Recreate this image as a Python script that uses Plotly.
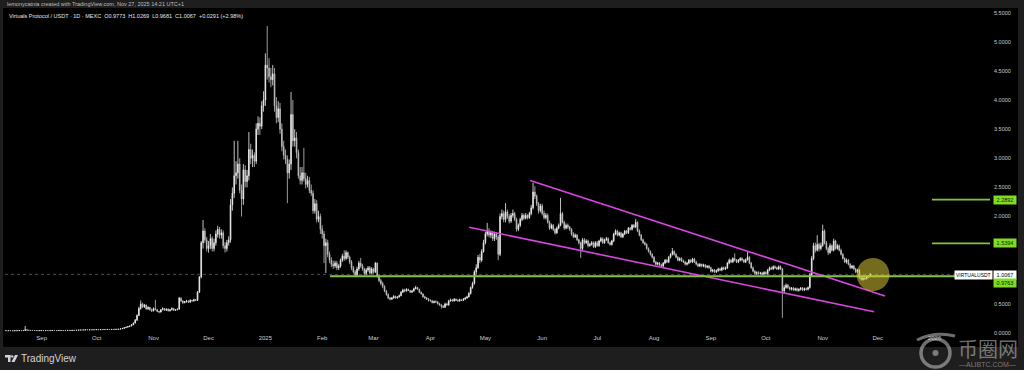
import plotly.graph_objects as go
import pandas as pd

# ---------------- data ----------------
HEADER_TEXT = "lemonycatnia created with TradingView.com, Nov 27, 2025 14:21 UTC+1"
LEGEND_TEXT = "Virtuals Protocol / USDT · 1D · MEXC  O0.9773  H1.0269  L0.9681  C1.0067  +0.0291 (+2.98%)"
SYMBOL = "VIRTUALUSDT"
LAST_DATE = "2025-11-27"

OPEN = [
    # 2024-08 (12..31)
    .040, .040, .039, .041, .040, .038, .039, .040, .041, .042, .041, .043, .055, .048, .046, .044, .043, .042, .041, .040,
    # 2024-09
    .041, .042, .041, .043, .042, .041, .043, .044, .042, .041, .043, .044, .043, .042, .044, .045, .043, .044, .046, .045,
    .047, .050, .052, .051, .053, .055, .054, .056, .055, .057,
    # 2024-10
    .056, .058, .056, .059, .058, .060, .059, .061, .060, .062, .061, .063, .064, .066, .072, .080, .090, .100, .110, .120,
    .140, .170, .220, .300, .420, .500, .450, .480, .410, .440, .400,
    # 2024-11
    .380, .420, .400, .370, .360, .400, .420, .390, .410, .380, .400, .420, .390, .400, .410, .600, .550, .520, .540, .550,
    .530, .560, .550, .570, .560, .700, .960, 1.55, 1.75, 1.60,
    # 2024-12
    1.45, 1.50, 1.62, 1.45, 1.55, 1.70, 1.78, 1.68, 1.72, 1.50, 1.45, 1.55, 1.60, 2.20, 2.40, 2.70, 2.75, 2.90, 2.45, 2.30,
    2.80, 2.60, 2.70, 3.15, 3.00, 3.05, 2.95, 3.50, 3.60, 3.55, 3.90,
    # 2025-01
    4.00, 4.60, 4.55, 4.40, 4.35, 4.45, 3.90, 3.70, 3.85, 3.50, 3.20, 3.05, 2.98, 2.75, 2.90, 3.75, 3.30, 3.35, 3.10, 2.70,
    2.62, 2.75, 2.65, 2.55, 2.62, 2.45, 2.40, 2.10, 2.22, 1.95, 2.00,
    # 2025-02
    1.78, 1.70, 1.50, 1.55, 1.35, 1.25, 1.18, 1.15, 1.20, 1.12, 1.15, 1.25, 1.32, 1.28, 1.38, 1.30, 1.22, 1.12, 1.05, 1.00,
    1.10, 1.20, 1.15, 1.10, 1.02, 1.08, 1.12, 1.03,
    # 2025-03
    1.10, 1.05, 1.20, 0.98, 0.90, 0.85, 0.80, 0.72, 0.66, 0.60, 0.58, 0.60, 0.63, 0.60, 0.62, 0.64, 0.70, 0.74, 0.72, 0.75,
    0.73, 0.70, 0.72, 0.76, 0.78, 0.75, 0.70, 0.67, 0.62, 0.60, 0.58,
    # 2025-04
    .56, .55, .52, .54, .53, .50, .48, .46, .44, .50, .48, .55, .57, .55, .58, .56, .55, .57, .56, .58,
    .60, .62, .68, .78, .85, 1.05, 1.12, 1.30, 1.25, 1.40,
    # 2025-05
    1.55, 1.70, 1.75, 1.68, 1.72, 1.62, 1.70, 1.65, 1.35, 2.00, 2.05, 1.95, 2.08, 2.00, 1.92, 2.02, 2.05, 1.95, 1.78, 1.85,
    1.95, 2.02, 1.97, 2.02, 1.98, 2.05, 2.15, 2.42, 2.35, 2.22, 2.10,
    # 2025-06
    2.18, 2.05, 1.98, 2.02, 1.90, 1.80, 1.85, 1.78, 1.72, 1.80, 1.85, 2.05, 1.90, 1.80, 1.85, 1.82, 1.78, 1.70, 1.65, 1.68,
    1.60, 1.55, 1.45, 1.60, 1.55, 1.58, 1.50, 1.52, 1.55, 1.48,
    # 2025-07
    1.55, 1.50, 1.58, 1.62, 1.55, 1.60, 1.62, 1.55, 1.52, 1.58, 1.70, 1.75, 1.68, 1.72, 1.65, 1.70, 1.75, 1.72, 1.80, 1.78,
    1.85, 1.82, 1.90, 1.75, 1.68, 1.60, 1.55, 1.52, 1.45, 1.40, 1.35,
    # 2025-08
    1.30, 1.22, 1.18, 1.20, 1.17, 1.15, 1.20, 1.25, 1.22, 1.30, 1.35, 1.40, 1.35, 1.30, 1.25, 1.28, 1.24, 1.22, 1.18, 1.20,
    1.25, 1.22, 1.27, 1.22, 1.18, 1.15, 1.18, 1.15, 1.17, 1.13, 1.15,
    # 2025-09
    1.12, 1.06, 1.08, 1.05, 1.07, 1.10, 1.08, 1.12, 1.10, 1.12, 1.20, 1.25, 1.22, 1.28, 1.25, 1.22, 1.25, 1.28, 1.25, 1.22,
    1.26, 1.30, 1.20, 1.12, 1.06, 1.02, 1.04, 1.02, 1.03, 1.01,
    # 2025-10
    1.04, 1.02, 1.08, 1.12, 1.10, 1.14, 1.12, 1.10, 1.14, 1.10, 0.72, 0.78, 0.82, 0.78, 0.75, 0.77, 0.74, 0.76, 0.73, 0.75,
    0.77, 0.74, 0.76, 0.75, 0.78, 1.00, 1.28, 1.50, 1.42, 1.52, 1.45,
    # 2025-11 (1..27)
    1.50, 1.75, 1.55, 1.45, 1.38, 1.50, 1.42, 1.58, 1.45, 1.50, 1.42, 1.35, 1.28, 1.22, 1.25, 1.18, 1.12, 1.15, 1.10, 1.05,
    1.08, 0.95, 0.92, 0.94, 0.93, 0.96, 0.9773,
]

HIGH = [
    # 2024-08
    .042, .041, .042, .042, .041, .040, .041, .042, .043, .043, .044, .120, .058, .050, .048, .046, .045, .044, .043, .043,
    # 2024-09
    .044, .043, .045, .044, .043, .045, .046, .045, .043, .045, .046, .046, .045, .046, .047, .047, .046, .048, .048, .049,
    .053, .055, .054, .056, .058, .057, .059, .058, .060, .059,
    # 2024-10
    .060, .059, .061, .060, .062, .061, .063, .062, .064, .064, .065, .066, .068, .075, .083, .094, .105, .115, .125, .150,
    .180, .240, .320, .450, .560, .520, .500, .490, .460, .450, .420,
    # 2024-11
    .440, .570, .410, .380, .410, .440, .430, .420, .420, .410, .440, .430, .410, .420, .620, .610, .560, .550, .570, .560,
    .580, .570, .590, .580, .720, .980, 1.58, 1.94, 1.80, 1.65,
    # 2024-12
    1.58, 1.70, 1.66, 1.62, 1.76, 1.84, 1.82, 1.78, 1.76, 1.56, 1.60, 1.66, 2.30, 2.50, 3.30, 2.95, 3.30, 3.00, 2.55, 2.90,
    2.88, 2.80, 3.45, 3.25, 3.15, 3.10, 3.60, 3.72, 3.70, 3.98, 4.15,
    # 2025-01
    4.80, 5.27, 4.72, 4.55, 4.60, 4.55, 4.05, 3.98, 3.95, 3.60, 3.30, 3.15, 3.05, 2.98, 4.14, 4.00, 3.50, 3.45, 3.15, 2.85,
    2.85, 3.18, 2.75, 2.70, 2.68, 2.55, 2.45, 2.30, 2.28, 2.10, 2.05,
    # 2025-02
    1.85, 1.75, 1.62, 1.60, 1.40, 1.30, 1.24, 1.24, 1.24, 1.18, 1.28, 1.36, 1.42, 1.42, 1.40, 1.33, 1.25, 1.15, 1.08, 1.14,
    1.24, 1.29, 1.19, 1.12, 1.11, 1.15, 1.15, 1.13,
    # 2025-03
    1.12, 1.22, 1.21, 1.00, 0.93, 0.88, 0.82, 0.74, 0.68, 0.62, 0.62, 0.65, 0.64, 0.63, 0.66, 0.72, 0.76, 0.76, 0.77, 0.76,
    0.74, 0.74, 0.78, 0.81, 0.79, 0.76, 0.71, 0.68, 0.64, 0.62, 0.60,
    # 2025-04
    .58, .57, .56, .56, .55, .52, .50, .48, .52, .52, .57, .59, .58, .60, .59, .58, .59, .58, .60, .62,
    .64, .70, .80, .88, 1.08, 1.18, 1.34, 1.36, 1.44, 1.60,
    # 2025-05
    1.74, 1.89, 1.80, 1.76, 1.75, 1.74, 1.73, 1.68, 2.05, 2.12, 2.10, 2.23, 2.12, 2.04, 2.06, 2.12, 2.08, 1.98, 1.88, 1.98,
    2.06, 2.05, 2.06, 2.04, 2.08, 2.20, 2.58, 2.52, 2.38, 2.25, 2.22,
    # 2025-06
    2.22, 2.10, 2.06, 2.05, 1.93, 1.88, 1.87, 1.80, 1.83, 1.88, 2.32, 2.08, 1.93, 1.88, 1.88, 1.84, 1.80, 1.73, 1.71, 1.70,
    1.62, 1.57, 1.63, 1.63, 1.61, 1.60, 1.55, 1.58, 1.57, 1.58,
    # 2025-07
    1.58, 1.60, 1.65, 1.64, 1.62, 1.65, 1.64, 1.57, 1.60, 1.72, 1.78, 1.77, 1.74, 1.74, 1.72, 1.77, 1.77, 1.82, 1.82, 1.87,
    1.87, 1.96, 1.92, 1.78, 1.70, 1.62, 1.57, 1.54, 1.47, 1.42, 1.37,
    # 2025-08
    1.32, 1.24, 1.22, 1.22, 1.19, 1.22, 1.27, 1.27, 1.32, 1.37, 1.46, 1.42, 1.37, 1.32, 1.30, 1.30, 1.26, 1.24, 1.22, 1.27,
    1.27, 1.29, 1.29, 1.24, 1.20, 1.20, 1.19, 1.19, 1.18, 1.16, 1.17,
    # 2025-09
    1.14, 1.10, 1.10, 1.09, 1.12, 1.12, 1.14, 1.14, 1.14, 1.22, 1.28, 1.27, 1.30, 1.37, 1.27, 1.27, 1.30, 1.30, 1.27, 1.28,
    1.39, 1.32, 1.22, 1.14, 1.08, 1.06, 1.06, 1.05, 1.05, 1.06,
    # 2025-10
    1.06, 1.10, 1.14, 1.14, 1.16, 1.16, 1.14, 1.16, 1.16, 1.12, 0.82, 0.85, 0.84, 0.80, 0.79, 0.79, 0.78, 0.78, 0.77, 0.79,
    0.79, 0.78, 0.78, 0.80, 1.03, 1.32, 1.55, 1.55, 1.68, 1.55, 1.55,
    # 2025-11
    1.86, 1.78, 1.58, 1.48, 1.54, 1.52, 1.62, 1.60, 1.53, 1.52, 1.45, 1.37, 1.30, 1.28, 1.27, 1.20, 1.17, 1.17, 1.12, 1.10,
    1.10, 0.97, 0.96, 0.96, 0.98, 0.99, 1.0269,
]

LOW = [
    # 2024-08
    .038, .038, .038, .039, .037, .037, .038, .039, .040, .040, .040, .042, .046, .044, .042, .041, .040, .039, .039, .039,
    # 2024-09
    .040, .039, .040, .041, .040, .040, .042, .041, .040, .040, .042, .042, .041, .041, .043, .042, .042, .043, .044, .044,
    .046, .049, .050, .050, .052, .053, .053, .054, .054, .055,
    # 2024-10
    .055, .055, .055, .057, .057, .058, .058, .059, .059, .060, .060, .062, .063, .065, .070, .078, .088, .097, .107, .117,
    .135, .165, .210, .290, .400, .430, .430, .400, .400, .380, .360,
    # 2024-11
    .370, .390, .360, .340, .350, .390, .380, .380, .370, .370, .390, .380, .380, .390, .400, .530, .500, .510, .520, .520,
    .520, .540, .540, .550, .550, .690, .940, 1.45, 1.55, 1.40,
    # 2024-12
    1.38, 1.44, 1.40, 1.40, 1.50, 1.64, 1.62, 1.62, 1.45, 1.38, 1.40, 1.50, 1.55, 2.10, 2.32, 2.55, 2.65, 2.40, 2.00, 2.20,
    2.50, 2.50, 2.62, 2.90, 2.85, 2.85, 2.90, 3.40, 3.40, 3.50, 3.80,
    # 2025-01
    3.90, 4.35, 4.30, 4.22, 4.25, 3.80, 3.60, 3.62, 3.42, 3.12, 2.98, 2.90, 2.23, 2.65, 2.80, 3.20, 3.20, 3.00, 2.65, 2.55,
    2.55, 2.60, 2.48, 2.50, 2.40, 2.35, 2.05, 2.05, 1.90, 1.90, 1.70,
    # 2025-02
    1.62, 1.20, 1.03, 1.30, 1.20, 1.13, 1.10, 1.12, 1.08, 1.08, 1.12, 1.22, 1.24, 1.25, 1.27, 1.18, 1.08, 1.02, 0.96, 0.98,
    1.07, 1.12, 1.07, 0.99, 1.00, 1.05, 1.00, 1.01,
    # 2025-03
    1.02, 1.03, 0.95, 0.87, 0.82, 0.77, 0.70, 0.64, 0.58, 0.56, 0.57, 0.59, 0.59, 0.59, 0.61, 0.63, 0.69, 0.70, 0.71, 0.72,
    0.69, 0.69, 0.71, 0.75, 0.74, 0.69, 0.66, 0.61, 0.59, 0.57, 0.54,
    # 2025-04
    .54, .51, .51, .52, .49, .47, .42, .43, .43, .47, .47, .54, .54, .54, .55, .54, .54, .55, .55, .57,
    .59, .61, .66, .76, .83, 1.00, 1.10, 1.20, 1.22, 1.38,
    # 2025-05
    1.52, 1.66, 1.64, 1.63, 1.58, 1.58, 1.60, 1.25, 1.32, 1.95, 1.90, 1.90, 1.96, 1.88, 1.89, 1.98, 1.92, 1.74, 1.75, 1.82,
    1.92, 1.94, 1.95, 1.95, 1.96, 2.02, 2.12, 2.30, 2.18, 2.05, 2.07,
    # 2025-06
    2.02, 1.95, 1.95, 1.88, 1.77, 1.78, 1.75, 1.69, 1.70, 1.78, 1.83, 1.88, 1.77, 1.78, 1.79, 1.75, 1.67, 1.63, 1.63, 1.58,
    1.52, 1.29, 1.42, 1.52, 1.53, 1.47, 1.48, 1.50, 1.46, 1.46,
    # 2025-07
    1.48, 1.48, 1.56, 1.53, 1.53, 1.58, 1.53, 1.50, 1.50, 1.56, 1.68, 1.66, 1.66, 1.63, 1.63, 1.68, 1.70, 1.70, 1.76, 1.76,
    1.80, 1.80, 1.73, 1.66, 1.58, 1.53, 1.50, 1.43, 1.38, 1.33, 1.28,
    # 2025-08
    1.20, 1.16, 1.16, 1.15, 1.13, 1.13, 1.18, 1.20, 1.20, 1.28, 1.33, 1.33, 1.28, 1.23, 1.23, 1.22, 1.20, 1.16, 1.16, 1.18,
    1.20, 1.20, 1.20, 1.16, 1.13, 1.13, 1.13, 1.13, 1.11, 1.11, 1.10,
    # 2025-09
    1.04, 1.04, 1.03, 1.03, 1.05, 1.06, 1.06, 1.08, 1.08, 1.10, 1.18, 1.20, 1.20, 1.23, 1.20, 1.20, 1.23, 1.23, 1.20, 1.20,
    1.24, 1.18, 1.10, 1.04, 1.00, 1.00, 1.00, 1.00, 0.99, 1.00,
    # 2025-10
    1.00, 1.00, 1.06, 1.08, 1.08, 1.10, 1.08, 1.08, 1.08, 0.26, 0.68, 0.76, 0.76, 0.73, 0.73, 0.72, 0.72, 0.71, 0.71, 0.73,
    0.72, 0.72, 0.73, 0.73, 0.76, 0.97, 1.25, 1.38, 1.40, 1.40, 1.42,
    # 2025-11
    1.48, 1.52, 1.42, 1.34, 1.36, 1.40, 1.40, 1.43, 1.43, 1.40, 1.33, 1.26, 1.20, 1.19, 1.16, 1.10, 1.10, 1.08, 1.03, 1.03,
    0.93, 0.90, 0.90, 0.91, 0.92, 0.95, 0.9681,
]

CLOSE = [
    # 2024-08
    .040, .039, .041, .040, .038, .039, .040, .041, .042, .041, .043, .055, .048, .046, .044, .043, .042, .041, .040, .041,
    # 2024-09
    .042, .041, .043, .042, .041, .043, .044, .042, .041, .043, .044, .043, .042, .044, .045, .043, .044, .046, .045, .047,
    .050, .052, .051, .053, .055, .054, .056, .055, .057, .056,
    # 2024-10
    .058, .056, .059, .058, .060, .059, .061, .060, .062, .061, .063, .064, .066, .072, .080, .090, .100, .110, .120, .140,
    .170, .220, .300, .420, .500, .450, .480, .410, .440, .400, .380,
    # 2024-11
    .420, .400, .370, .360, .400, .420, .390, .410, .380, .400, .420, .390, .400, .410, .600, .550, .520, .540, .550, .530,
    .560, .550, .570, .560, .700, .960, 1.55, 1.75, 1.60, 1.45,
    # 2024-12
    1.50, 1.62, 1.45, 1.55, 1.70, 1.78, 1.68, 1.72, 1.50, 1.45, 1.55, 1.60, 2.20, 2.40, 2.70, 2.75, 2.90, 2.45, 2.30, 2.80,
    2.60, 2.70, 3.15, 3.00, 3.05, 2.95, 3.50, 3.60, 3.55, 3.90, 4.00,
    # 2025-01
    4.60, 4.55, 4.40, 4.35, 4.45, 3.90, 3.70, 3.85, 3.50, 3.20, 3.05, 2.98, 2.75, 2.90, 3.75, 3.30, 3.35, 3.10, 2.70, 2.62,
    2.75, 2.65, 2.55, 2.62, 2.45, 2.40, 2.10, 2.22, 1.95, 2.00, 1.78,
    # 2025-02
    1.70, 1.50, 1.55, 1.35, 1.25, 1.18, 1.15, 1.20, 1.12, 1.15, 1.25, 1.32, 1.28, 1.38, 1.30, 1.22, 1.12, 1.05, 1.00, 1.10,
    1.20, 1.15, 1.10, 1.02, 1.08, 1.12, 1.03, 1.10,
    # 2025-03
    1.05, 1.20, 0.98, 0.90, 0.85, 0.80, 0.72, 0.66, 0.60, 0.58, 0.60, 0.63, 0.60, 0.62, 0.64, 0.70, 0.74, 0.72, 0.75, 0.73,
    0.70, 0.72, 0.76, 0.78, 0.75, 0.70, 0.67, 0.62, 0.60, 0.58, 0.56,
    # 2025-04
    .55, .52, .54, .53, .50, .48, .46, .44, .50, .48, .55, .57, .55, .58, .56, .55, .57, .56, .58, .60,
    .62, .68, .78, .85, 1.05, 1.12, 1.30, 1.25, 1.40, 1.55,
    # 2025-05
    1.70, 1.75, 1.68, 1.72, 1.62, 1.70, 1.65, 1.35, 2.00, 2.05, 1.95, 2.08, 2.00, 1.92, 2.02, 2.05, 1.95, 1.78, 1.85, 1.95,
    2.02, 1.97, 2.02, 1.98, 2.05, 2.15, 2.42, 2.35, 2.22, 2.10, 2.18,
    # 2025-06
    2.05, 1.98, 2.02, 1.90, 1.80, 1.85, 1.78, 1.72, 1.80, 1.85, 2.05, 1.90, 1.80, 1.85, 1.82, 1.78, 1.70, 1.65, 1.68, 1.60,
    1.55, 1.45, 1.60, 1.55, 1.58, 1.50, 1.52, 1.55, 1.48, 1.55,
    # 2025-07
    1.50, 1.58, 1.62, 1.55, 1.60, 1.62, 1.55, 1.52, 1.58, 1.70, 1.75, 1.68, 1.72, 1.65, 1.70, 1.75, 1.72, 1.80, 1.78, 1.85,
    1.82, 1.90, 1.75, 1.68, 1.60, 1.55, 1.52, 1.45, 1.40, 1.35, 1.30,
    # 2025-08
    1.22, 1.18, 1.20, 1.17, 1.15, 1.20, 1.25, 1.22, 1.30, 1.35, 1.40, 1.35, 1.30, 1.25, 1.28, 1.24, 1.22, 1.18, 1.20, 1.25,
    1.22, 1.27, 1.22, 1.18, 1.15, 1.18, 1.15, 1.17, 1.13, 1.15, 1.12,
    # 2025-09
    1.06, 1.08, 1.05, 1.07, 1.10, 1.08, 1.12, 1.10, 1.12, 1.20, 1.25, 1.22, 1.28, 1.25, 1.22, 1.25, 1.28, 1.25, 1.22, 1.26,
    1.30, 1.20, 1.12, 1.06, 1.02, 1.04, 1.02, 1.03, 1.01, 1.04,
    # 2025-10
    1.02, 1.08, 1.12, 1.10, 1.14, 1.12, 1.10, 1.14, 1.10, 0.72, 0.78, 0.82, 0.78, 0.75, 0.77, 0.74, 0.76, 0.73, 0.75, 0.77,
    0.74, 0.76, 0.75, 0.78, 1.00, 1.28, 1.50, 1.42, 1.52, 1.45, 1.50,
    # 2025-11
    1.75, 1.55, 1.45, 1.38, 1.50, 1.42, 1.58, 1.45, 1.50, 1.42, 1.35, 1.28, 1.22, 1.25, 1.18, 1.12, 1.15, 1.10, 1.05, 1.08,
    0.95, 0.92, 0.94, 0.93, 0.96, 0.9776, 1.0067,
]

TICK_DATES = ["2024-09-01", "2024-10-01", "2024-11-01", "2024-12-01", "2025-01-01", "2025-02-01", "2025-03-01",
              "2025-04-01", "2025-05-01", "2025-06-01", "2025-07-01", "2025-08-01", "2025-09-01", "2025-10-01",
              "2025-11-01", "2025-12-01", "2026-01-01"]
TICK_TEXT = ["Sep", "Oct", "Nov", "Dec", "2025", "Feb", "Mar", "Apr", "May", "Jun", "Jul", "Aug", "Sep", "Oct",
             "Nov", "Dec", "2026"]
# price-scale labels shown (1.0000 and 1.5000 are hidden behind the price tags, as in the reference)
PRICE_TICKS = [0.0, 0.5, 2.0, 2.5, 3.0, 3.5, 4.0, 4.5, 5.0, 5.5]

LAST_PRICE = 1.0067
SUPPORT_PRICE = 0.9763
SUPPORT_START = "2025-02-05 07:00"
TARGET_PRICES = [1.5394, 2.2892]
TARGET_START = "2025-12-30 14:00"
UPPER_TREND_X = ["2025-05-25 10:00", "2025-12-05 00:00"]
UPPER_TREND_Y = [2.617, 0.636]
LOWER_TREND_X = ["2025-04-22 04:00", "2025-11-29 00:00"]
LOWER_TREND_Y = [1.816, 0.366]
MARKER_X = "2025-11-28 10:00"
MARKER_Y = 1.005

X_RANGE = ["2024-08-11 23:30", "2026-01-31 06:00"]
Y_RANGE = [0, 5.58]

# ---------------- layout helpers (pixel -> paper) ----------------
W, H = 1024, 370
ML, MR, MT, MB = 5, 34, 8, 37
PW, PH = W - ML - MR, H - MT - MB


def px(x):
    return (x - ML) / PW


def py(y):
    return (H - MB - y) / PH


n = len(CLOSE)
assert len(OPEN) == n and len(HIGH) == n and len(LOW) == n
DATES = pd.date_range(end=LAST_DATE, periods=n, freq="D")

GREEN_LINE = "#84c341"
GREEN_BOX = "#7fdc22"
MAGENTA = "#d945e0"
TXT = "#c9ccd3"
FONT = "Liberation Sans"
WM = "rgba(200,200,200,0.55)"

fig = go.Figure()
fig.add_trace(go.Candlestick(
    x=DATES, open=OPEN, high=HIGH, low=LOW, close=CLOSE,
    increasing=dict(line=dict(color="#f2f2f2", width=0.8), fillcolor="#f2f2f2"),
    decreasing=dict(line=dict(color="#c4c4c4", width=0.8), fillcolor="#c4c4c4"),
    whiskerwidth=0, showlegend=False, hoverinfo="skip",
))
fig.add_trace(go.Scatter(x=UPPER_TREND_X, y=UPPER_TREND_Y, mode="lines",
                         line=dict(color=MAGENTA, width=1.6), showlegend=False, hoverinfo="skip"))
fig.add_trace(go.Scatter(x=LOWER_TREND_X, y=LOWER_TREND_Y, mode="lines",
                         line=dict(color=MAGENTA, width=1.6), showlegend=False, hoverinfo="skip"))

shapes = [
    # chart pane background
    dict(type="rect", xref="paper", yref="paper", x0=px(3), x1=px(1018), y0=py(347), y1=py(8),
         fillcolor="#000000", line_width=0, layer="below"),
    # last price dotted line
    dict(type="line", xref="paper", yref="y", x0=0, x1=1, y0=LAST_PRICE, y1=LAST_PRICE,
         line=dict(color="#4d4d4d", width=1, dash="dot"), layer="below"),
    # support line
    dict(type="line", xref="x", yref="y", x0=SUPPORT_START, x1=X_RANGE[1], y0=SUPPORT_PRICE, y1=SUPPORT_PRICE,
         line=dict(color=GREEN_LINE, width=2)),
    # highlight circle
    dict(type="circle", xref="x", yref="y", xsizemode="pixel", ysizemode="pixel",
         xanchor=MARKER_X, yanchor=MARKER_Y, x0=-16.5, x1=16.5, y0=-16.5, y1=16.5,
         fillcolor="rgba(225,205,55,0.52)", line_width=0, layer="above"),
]
for tp in TARGET_PRICES:
    shapes.append(dict(type="line", xref="x", yref="y", x0=TARGET_START, x1=X_RANGE[1], y0=tp, y1=tp,
                       line=dict(color=GREEN_LINE, width=1.6)))

# TradingView logo icon (bottom-left)
shapes += [
    dict(type="rect", xref="paper", yref="paper", x0=px(5), x1=px(10.5), y0=py(357.5), y1=py(355),
         fillcolor="#d1d4dc", line_width=0),
    dict(type="rect", xref="paper", yref="paper", x0=px(8), x1=px(10.5), y0=py(362), y1=py(355),
         fillcolor="#d1d4dc", line_width=0),
    dict(type="circle", xref="paper", yref="paper", x0=px(11), x1=px(13.4), y0=py(357.6), y1=py(355.2),
         fillcolor="#d1d4dc", line_width=0),
    dict(type="path", xref="paper", yref="paper",
         path=f"M {px(11.5)},{py(362)} L {px(14.5)},{py(362)} L {px(18)},{py(355)} L {px(15)},{py(355)} Z",
         fillcolor="#d1d4dc", line_width=0),
    # watermark logo: ring, centre dot and top swash
    dict(type="circle", xref="paper", yref="paper", x0=px(921), x1=px(950), y0=py(367), y1=py(339),
         fillcolor="rgba(0,0,0,0)", line=dict(color=WM, width=3.5)),
    dict(type="circle", xref="paper", yref="paper", x0=px(932.5), x1=px(938.5), y0=py(356), y1=py(350),
         fillcolor=WM, line_width=0),
    dict(type="path", xref="paper", yref="paper",
         path=f"M {px(917)},{py(340)} Q {px(935)},{py(331)} {px(955)},{py(336)}",
         line=dict(color=WM, width=3)),
]

annotations = [
    dict(text=HEADER_TEXT, xref="paper", yref="paper", x=px(5), y=py(4.5), xanchor="left", yanchor="middle",
         showarrow=False, font=dict(size=5.5, color="#bfbfbf", family=FONT)),
    dict(text=LEGEND_TEXT, xref="paper", yref="paper", x=px(7), y=py(16), xanchor="left", yanchor="middle",
         showarrow=False, font=dict(size=5.5, color="#e6e6e6", family=FONT)),
    dict(text="TradingView", xref="paper", yref="paper", x=px(19), y=py(358.5), xanchor="left", yanchor="middle",
         showarrow=False, font=dict(size=10, color="#d1d4dc", family=FONT)),
    dict(text="币圈网", xref="paper", yref="paper", x=px(988), y=py(348), xanchor="center", yanchor="middle",
         showarrow=False, font=dict(size=20, color=WM, family="Noto Sans CJK SC")),
    dict(text="—ALIBTC.COM—", xref="paper", yref="paper", x=px(987), y=py(364), xanchor="center",
         yanchor="middle", showarrow=False, font=dict(size=7, color=WM, family=FONT)),
]
for tp in TARGET_PRICES:
    annotations.append(dict(text=f"{tp:.4f}", xref="paper", yref="y", x=1, y=tp, xanchor="left", yanchor="middle",
                            xshift=3, showarrow=False, bgcolor=GREEN_BOX, borderpad=1, width=20,
                            font=dict(size=5.5, color="#10260a", family=FONT)))
annotations += [
    dict(text=f"{LAST_PRICE:.4f}", xref="paper", yref="y", x=1, y=LAST_PRICE, xanchor="left", yanchor="middle",
         xshift=3, yshift=-1, showarrow=False, bgcolor="#ffffff", borderpad=1, width=20,
         font=dict(size=5.5, color="#000000", family=FONT)),
    dict(text=SYMBOL, xref="paper", yref="y", x=1, y=LAST_PRICE, xanchor="right", yanchor="middle",
         xshift=3, yshift=-1, showarrow=False, bgcolor="#ffffff", borderpad=1,
         font=dict(size=5, color="#000000", family=FONT)),
    dict(text=f"{SUPPORT_PRICE:.4f}", xref="paper", yref="y", x=1, y=SUPPORT_PRICE, xanchor="left",
         yanchor="middle", xshift=3, yshift=-7, showarrow=False, bgcolor=GREEN_BOX, borderpad=1, width=20,
         font=dict(size=5.5, color="#10260a", family=FONT)),
]

fig.update_layout(
    width=W, height=H, margin=dict(l=ML, r=MR, t=MT, b=MB, pad=0),
    paper_bgcolor="#1e1e1e", plot_bgcolor="#000000",
    showlegend=False, boxgap=0.45,
    font=dict(family=FONT, color=TXT),
    shapes=shapes, annotations=annotations,
    xaxis=dict(type="date", range=X_RANGE, tickvals=TICK_DATES, ticktext=TICK_TEXT,
               showgrid=False, zeroline=False, showline=False, ticks="",
               tickfont=dict(size=6, color=TXT), rangeslider=dict(visible=False), fixedrange=True),
    yaxis=dict(side="right", range=Y_RANGE, tickvals=PRICE_TICKS, ticktext=[f"{v:.4f}" for v in PRICE_TICKS],
               showgrid=False, zeroline=False, showline=False, ticks="", ticklabelstandoff=3,
               tickfont=dict(size=5.5, color=TXT), fixedrange=True),
)

fig.write_html("out.html")
